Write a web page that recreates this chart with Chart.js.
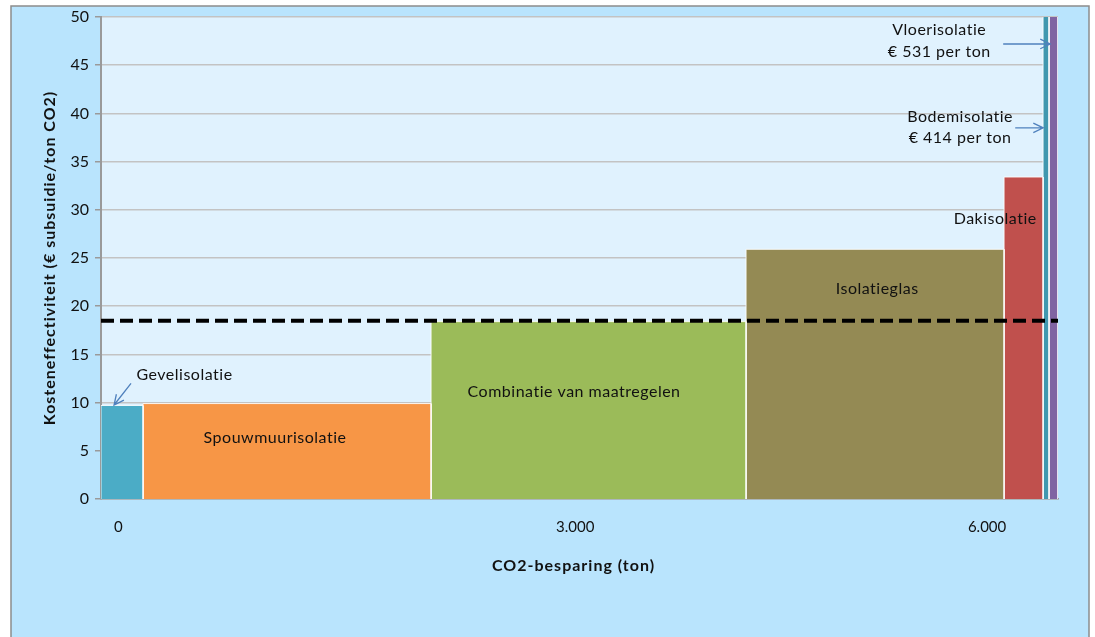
<!DOCTYPE html>
<html>
<head>
<meta charset="utf-8">
<script src="https://cdn.jsdelivr.net/npm/chart.js@4/dist/chart.umd.min.js"></script>
<style>
 body { margin: 0; background: #fff; }
 #wrap { width: 1095px; height: 637px; }
</style>
</head>
<body>
<div id="wrap"><canvas id="c" width="1095" height="637"></canvas></div>
<script>
// maatregelen, CO2-besparing (ton) en kosten (€ subsidie / ton CO2)
const measures = ['Gevelisolatie', 'Spouwmuurisolatie', 'Combinatie van maatregelen', 'Isolatieglas', 'Dakisolatie', 'Bodemisolatie', 'Vloerisolatie'];
const savings = [290, 1986, 2172, 1779, 269, 41, 62];
const costs = [9.7, 9.9, 18.4, 25.9, 33.4, 414, 531];
const barColors = ['#4bacc6', '#f79646', '#9bbb59', '#948a54', '#c0504d', '#4198af', '#8064a2'];
const threshold = 18.5;

const xTickValues = [120, 3270, 6110];
const xTickLabels = ['0', '3.000', '6.000'];
const xTitle = 'CO2-besparing (ton)';
const yTitle = 'Kosteneffectiviteit (€ subsuidie/ton CO2)';

// teksten in de grafiek (x in ton, y in €/ton)
const notes = [
  { text: 'Gevelisolatie', x: 576, y: 12.9 },
  { text: 'Spouwmuurisolatie', x: 1200, y: 6.3 },
  { text: 'Combinatie van maatregelen', x: 3262, y: 11.1 },
  { text: 'Isolatieglas', x: 5352, y: 21.8 },
  { text: 'Dakisolatie', x: 6166, y: 29.1 },
  { text: 'Bodemisolatie', x: 5924, y: 39.6 },
  { text: '€ 414 per ton', x: 5924, y: 37.5 },
  { text: 'Vloerisolatie', x: 5780, y: 48.7 },
  { text: '€ 531 per ton', x: 5780, y: 46.4 }
];
const arrows = [
  { x1: 207, y1: 12.0, x2: 90, y2: 9.75 },
  { x1: 6304, y1: 38.5, x2: 6497, y2: 38.5 },
  { x1: 6221, y1: 47.2, x2: 6545, y2: 47.2 }
];

const total = savings.reduce((a, b) => a + b, 0);

// elke maatregel als gevuld blok: breedte = besparing, hoogte = kosten
let start = 0;
const datasets = measures.map((m, i) => {
  const x0 = start, x1 = start + savings[i];
  start = x1;
  return {
    label: m,
    data: [{x: x0, y: 0}, {x: x0, y: costs[i]}, {x: x1, y: costs[i]}, {x: x1, y: 0}],
    backgroundColor: barColors[i],
    borderColor: 'rgba(255,255,255,0.85)',
    borderWidth: 1,
    fill: 'origin',
    pointRadius: 0,
    tension: 0,
    order: 2
  };
});
datasets.push({
  label: 'grens',
  data: [{x: 0, y: threshold}, {x: total, y: threshold}],
  borderColor: '#000',
  borderWidth: 4,
  borderDash: [13, 6],
  fill: false,
  pointRadius: 0,
  order: 1
});

const backdrop = {
  id: 'backdrop',
  beforeDraw(chart) {
    const ctx = chart.ctx, a = chart.chartArea;
    ctx.save();
    ctx.fillStyle = '#ffffff';
    ctx.fillRect(0, 0, chart.width, chart.height);
    ctx.fillStyle = '#b9e4fd';
    ctx.fillRect(11, 6, 1078, 640);
    ctx.strokeStyle = '#8c8c8c';
    ctx.lineWidth = 1.5;
    ctx.strokeRect(11, 6, 1078, 640);
    ctx.fillStyle = '#e0f2fe';
    ctx.fillRect(a.left, a.top, a.right - a.left, a.bottom - a.top);
    ctx.restore();
  }
};

const texts = {
  id: 'texts',
  afterDraw(chart) {
    const ctx = chart.ctx, xs = chart.scales.x, ys = chart.scales.y, a = chart.chartArea;
    ctx.save();
    ctx.fillStyle = '#111';
    ctx.textAlign = 'center';
    ctx.textBaseline = 'middle';
    ctx.letterSpacing = '0.5px';
    ctx.font = '16px Lato';
    notes.forEach(n => ctx.fillText(n.text, xs.getPixelForValue(n.x), ys.getPixelForValue(n.y)));

    // astitels
    ctx.letterSpacing = '1px';
    ctx.font = 'bold 16px Lato';
    ctx.fillText(xTitle, (a.left + a.right) / 2 - 6, 566);
    ctx.save();
    ctx.translate(50, (a.top + a.bottom) / 2);
    ctx.rotate(-Math.PI / 2);
    ctx.fillText(yTitle, 0, 0);
    ctx.restore();

    ctx.strokeStyle = '#4f81bd';
    ctx.lineWidth = 1.3;
    arrows.forEach(r => {
      const ax = xs.getPixelForValue(r.x1), ay = ys.getPixelForValue(r.y1);
      const bx = xs.getPixelForValue(r.x2), by = ys.getPixelForValue(r.y2);
      const ang = Math.atan2(by - ay, bx - ax);
      ctx.beginPath();
      ctx.moveTo(ax, ay);
      ctx.lineTo(bx, by);
      ctx.moveTo(bx - 11 * Math.cos(ang - 0.45), by - 11 * Math.sin(ang - 0.45));
      ctx.lineTo(bx, by);
      ctx.lineTo(bx - 11 * Math.cos(ang + 0.45), by - 11 * Math.sin(ang + 0.45));
      ctx.stroke();
    });
    ctx.restore();
  }
};

new Chart(document.getElementById('c'), {
  type: 'line',
  data: { datasets: datasets },
  plugins: [backdrop, texts],
  options: {
    responsive: false,
    animation: false,
    layout: { padding: { left: 0, top: 17, right: 37, bottom: 0 } },
    plugins: { legend: { display: false }, tooltip: { enabled: false } },
    scales: {
      x: {
        type: 'linear',
        min: 0,
        max: total,
        grid: { display: false, drawTicks: false },
        border: { color: '#9a9a9a', width: 1.5 },
        afterBuildTicks: s => { s.ticks = xTickValues.map(v => ({ value: v })); },
        afterFit: s => { s.height = 138; },
        ticks: {
          padding: 19,
          color: '#111',
          font: { family: 'Lato', size: 15 },
          maxRotation: 0,
          autoSkip: false,
          callback: (v, i) => xTickLabels[i]
        }
      },
      y: {
        min: 0,
        max: 50,
        ticks: { stepSize: 5, color: '#111', padding: 6, font: { family: 'Lato', size: 16 } },
        grid: { color: '#c3c3c3', lineWidth: 1.5, tickLength: 6, tickColor: '#9a9a9a' },
        border: { color: '#9a9a9a', width: 2 },
        afterFit: s => { s.width = 101; }
      }
    }
  }
});
</script>
</body>
</html>
